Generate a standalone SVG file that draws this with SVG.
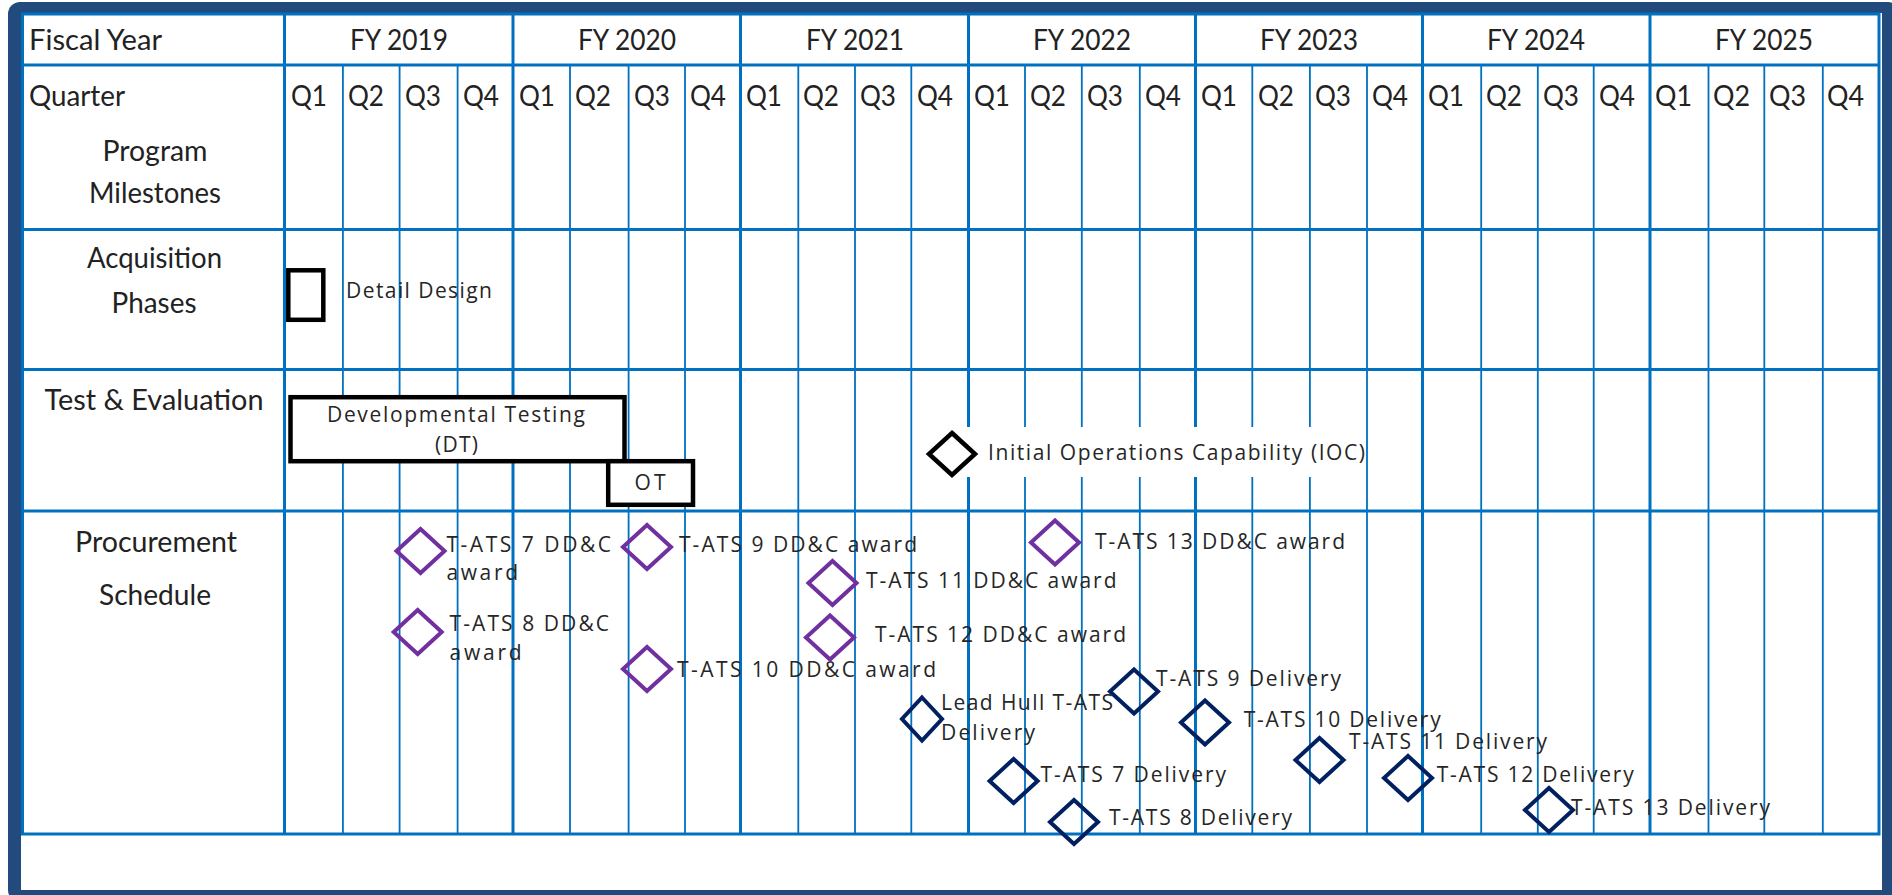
<svg xmlns="http://www.w3.org/2000/svg" xmlns:xlink="http://www.w3.org/1999/xlink" width="1892" height="895" viewBox="0 0 1892 895">
<style>
.hdr{font-family:Lato,"Liberation Sans",sans-serif;font-size:29px;fill:#222}
.mid{text-anchor:middle}
.lbl{font-family:"Open Sans","Liberation Sans",sans-serif;font-size:21px;fill:#262626}
.gy{stroke:#0070C0;stroke-width:3;fill:none}
.gq{stroke:#0070C0;stroke-width:1.8;fill:none}
.pd{fill:none;stroke:#7030A0;stroke-width:4}
.nd{fill:none;stroke:#002060;stroke-width:4}
.box{fill:#fff;stroke:#000;stroke-width:4.5}
</style>
<defs>
<path id="dm" d="M0,-22 L24,0 L0,22 L-24,0 Z"/>
<path id="dms" d="M0,-21.5 L20,0 L0,21.5 L-20,0 Z"/>
</defs>
<rect x="8" y="2" width="1892" height="900" rx="12" fill="#234A7D"/>
<rect x="21" y="13" width="1861" height="877" fill="#fff"/>

<g id="grid">
<rect class="gy" x="22.5" y="14" width="1856.5" height="820"/>
<path class="gy" d="M22.5,65H1879M22.5,229.5H1879M22.5,369.5H1879M22.5,511H1879"/>
<path class="gy" d="M284.5,14V834M513,14V834M740.5,14V834M968.5,14V834M1195.5,14V834M1422.5,14V834M1650,14V834"/>
<path class="gq" d="M342.9,65V834M399.6,65V834M457.6,65V834M570,65V834M628.6,65V834M685,65V834M798.3,65V834M855,65V834M911.3,65V834M1025,65V834M1081.8,65V834M1139.8,65V834M1252.3,65V834M1309.9,65V834M1367,65V834M1481.2,65V834M1537.8,65V834M1593.7,65V834M1708.5,65V834M1764.3,65V834M1822.8,65V834"/>
</g>

<g id="headers">
<text class="hdr" x="29" y="50" textLength="133" lengthAdjust="spacingAndGlyphs">Fiscal Year</text>
<text class="hdr mid" x="399" y="50" textLength="98" lengthAdjust="spacingAndGlyphs">FY 2019</text>
<text class="hdr mid" x="627" y="50" textLength="98" lengthAdjust="spacingAndGlyphs">FY 2020</text>
<text class="hdr mid" x="855" y="50" textLength="98" lengthAdjust="spacingAndGlyphs">FY 2021</text>
<text class="hdr mid" x="1082" y="50" textLength="98" lengthAdjust="spacingAndGlyphs">FY 2022</text>
<text class="hdr mid" x="1309" y="50" textLength="98" lengthAdjust="spacingAndGlyphs">FY 2023</text>
<text class="hdr mid" x="1536" y="50" textLength="98" lengthAdjust="spacingAndGlyphs">FY 2024</text>
<text class="hdr mid" x="1764" y="50" textLength="98" lengthAdjust="spacingAndGlyphs">FY 2025</text>
<text class="hdr" x="29" y="106" textLength="96" lengthAdjust="spacingAndGlyphs">Quarter</text>
<g class="hdr">
<text x="291" y="106" textLength="36" lengthAdjust="spacingAndGlyphs">Q1</text>
<text x="348" y="106" textLength="36" lengthAdjust="spacingAndGlyphs">Q2</text>
<text x="405" y="106" textLength="36" lengthAdjust="spacingAndGlyphs">Q3</text>
<text x="463" y="106" textLength="36" lengthAdjust="spacingAndGlyphs">Q4</text>
<text x="519" y="106" textLength="36" lengthAdjust="spacingAndGlyphs">Q1</text>
<text x="575" y="106" textLength="36" lengthAdjust="spacingAndGlyphs">Q2</text>
<text x="634" y="106" textLength="36" lengthAdjust="spacingAndGlyphs">Q3</text>
<text x="690" y="106" textLength="36" lengthAdjust="spacingAndGlyphs">Q4</text>
<text x="746" y="106" textLength="36" lengthAdjust="spacingAndGlyphs">Q1</text>
<text x="803" y="106" textLength="36" lengthAdjust="spacingAndGlyphs">Q2</text>
<text x="860" y="106" textLength="36" lengthAdjust="spacingAndGlyphs">Q3</text>
<text x="917" y="106" textLength="36" lengthAdjust="spacingAndGlyphs">Q4</text>
<text x="974" y="106" textLength="36" lengthAdjust="spacingAndGlyphs">Q1</text>
<text x="1030" y="106" textLength="36" lengthAdjust="spacingAndGlyphs">Q2</text>
<text x="1087" y="106" textLength="36" lengthAdjust="spacingAndGlyphs">Q3</text>
<text x="1145" y="106" textLength="36" lengthAdjust="spacingAndGlyphs">Q4</text>
<text x="1201" y="106" textLength="36" lengthAdjust="spacingAndGlyphs">Q1</text>
<text x="1258" y="106" textLength="36" lengthAdjust="spacingAndGlyphs">Q2</text>
<text x="1315" y="106" textLength="36" lengthAdjust="spacingAndGlyphs">Q3</text>
<text x="1372" y="106" textLength="36" lengthAdjust="spacingAndGlyphs">Q4</text>
<text x="1428" y="106" textLength="36" lengthAdjust="spacingAndGlyphs">Q1</text>
<text x="1486" y="106" textLength="36" lengthAdjust="spacingAndGlyphs">Q2</text>
<text x="1543" y="106" textLength="36" lengthAdjust="spacingAndGlyphs">Q3</text>
<text x="1599" y="106" textLength="36" lengthAdjust="spacingAndGlyphs">Q4</text>
<text x="1655" y="106" textLength="37" lengthAdjust="spacingAndGlyphs">Q1</text>
<text x="1713" y="106" textLength="37" lengthAdjust="spacingAndGlyphs">Q2</text>
<text x="1769" y="106" textLength="37" lengthAdjust="spacingAndGlyphs">Q3</text>
<text x="1827" y="106" textLength="37" lengthAdjust="spacingAndGlyphs">Q4</text>
</g>
</g>

<g id="row-labels" class="hdr">
<text class="mid" x="155" y="161" textLength="105" lengthAdjust="spacingAndGlyphs">Program</text>
<text class="mid" x="155" y="203" textLength="132" lengthAdjust="spacingAndGlyphs">Milestones</text>
<text class="mid" x="154.5" y="268" textLength="135" lengthAdjust="spacingAndGlyphs">Acquisition</text>
<text class="mid" x="154" y="313" textLength="85" lengthAdjust="spacingAndGlyphs">Phases</text>
<text class="mid" x="154" y="410" textLength="219" lengthAdjust="spacingAndGlyphs">Test &amp; Evaluation</text>
<text class="mid" x="156" y="552" textLength="162" lengthAdjust="spacingAndGlyphs">Procurement</text>
<text class="mid" x="155" y="605" textLength="112" lengthAdjust="spacingAndGlyphs">Schedule</text>
</g>

<g id="detail-design">
<rect class="box" x="288.3" y="270.3" width="35" height="49.5"/>
<text class="lbl" x="346" y="298" font-size="19.5" textLength="146" lengthAdjust="spacing">Detail Design</text>
</g>

<g id="dt">
<rect class="box" x="290.5" y="397.2" width="334" height="64"/>
<text class="lbl mid" x="456" y="422" font-size="18.5" textLength="258" lengthAdjust="spacing">Developmental Testing</text>
<text class="lbl mid" x="456.5" y="452" font-size="18.5" textLength="43" lengthAdjust="spacing">(DT)</text>
</g>

<g id="ot">
<rect class="box" x="608.2" y="461.2" width="84.8" height="43.6"/>
<text class="lbl mid" x="650" y="490" font-size="20" textLength="31" lengthAdjust="spacing">OT</text>
</g>

<g id="ioc">
<rect x="924" y="427" width="440" height="50" fill="#fff"/>
<path d="M952,433 L975,454 L952,475 L929,454 Z" fill="#fff" stroke="#000" stroke-width="4.5"/>
<text class="lbl" x="988" y="460" textLength="377" lengthAdjust="spacing">Initial Operations Capability (IOC)</text>
</g>

<g id="tats7-award">
<use xlink:href="#dm" class="pd" x="420.5" y="551"/>
<text class="lbl" x="446.4" y="552" textLength="164.6" lengthAdjust="spacing">T-ATS 7 DD&amp;C</text>
<text class="lbl" x="446.4" y="580" textLength="71.6" lengthAdjust="spacing">award</text>
</g>
<g id="tats8-award">
<use xlink:href="#dm" class="pd" x="417.7" y="632"/>
<text class="lbl" x="449.6" y="631" textLength="159.4" lengthAdjust="spacing">T-ATS 8 DD&amp;C</text>
<text class="lbl" x="449.6" y="660" textLength="72" lengthAdjust="spacing">award</text>
</g>
<g id="tats9-award">
<use xlink:href="#dm" class="pd" x="647" y="547"/>
<text class="lbl" x="679" y="552" textLength="238" lengthAdjust="spacing">T-ATS 9 DD&amp;C award</text>
</g>
<g id="tats10-award">
<use xlink:href="#dm" class="pd" x="647" y="669"/>
<text class="lbl" x="677" y="677" textLength="259" lengthAdjust="spacing">T-ATS 10 DD&amp;C award</text>
</g>
<g id="tats11-award">
<use xlink:href="#dm" class="pd" x="832.5" y="583"/>
<text class="lbl" x="866" y="587.5" textLength="250.5" lengthAdjust="spacing">T-ATS 11 DD&amp;C award</text>
</g>
<g id="tats12-award">
<use xlink:href="#dm" class="pd" x="830" y="637.5"/>
<text class="lbl" x="875" y="642" textLength="251" lengthAdjust="spacing">T-ATS 12 DD&amp;C award</text>
</g>
<g id="tats13-award">
<use xlink:href="#dm" class="pd" x="1055" y="542.5"/>
<text class="lbl" x="1095" y="548.5" textLength="250" lengthAdjust="spacing">T-ATS 13 DD&amp;C award</text>
</g>

<g id="lead-hull-delivery">
<use xlink:href="#dms" class="nd" x="922" y="719"/>
<text class="lbl" x="941" y="710" textLength="172" lengthAdjust="spacing">Lead Hull T-ATS</text>
<text class="lbl" x="941" y="740" textLength="94" lengthAdjust="spacing">Delivery</text>
</g>
<g id="tats7-delivery">
<use xlink:href="#dm" class="nd" x="1013.6" y="781"/>
<text class="lbl" x="1040.5" y="782" textLength="185.5" lengthAdjust="spacing">T-ATS 7 Delivery</text>
</g>
<g id="tats8-delivery">
<use xlink:href="#dm" class="nd" x="1074" y="822"/>
<text class="lbl" x="1109" y="825" textLength="183" lengthAdjust="spacing">T-ATS 8 Delivery</text>
</g>
<g id="tats9-delivery">
<use xlink:href="#dm" class="nd" x="1134" y="691.5"/>
<text class="lbl" x="1156" y="686" textLength="185" lengthAdjust="spacing">T-ATS 9 Delivery</text>
</g>
<g id="tats10-delivery">
<use xlink:href="#dm" class="nd" x="1205" y="722.5"/>
<text class="lbl" x="1243.7" y="727" textLength="197" lengthAdjust="spacing">T-ATS 10 Delivery</text>
</g>
<g id="tats11-delivery">
<use xlink:href="#dm" class="nd" x="1319.5" y="760"/>
<text class="lbl" x="1349" y="748.5" textLength="198" lengthAdjust="spacing">T-ATS 11 Delivery</text>
</g>
<g id="tats12-delivery">
<use xlink:href="#dm" class="nd" x="1408" y="778"/>
<text class="lbl" x="1436.7" y="782" textLength="197" lengthAdjust="spacing">T-ATS 12 Delivery</text>
</g>
<g id="tats13-delivery">
<use xlink:href="#dm" class="nd" x="1549" y="810"/>
<text class="lbl" x="1571" y="815" textLength="199" lengthAdjust="spacing">T-ATS 13 Delivery</text>
</g>
</svg>
